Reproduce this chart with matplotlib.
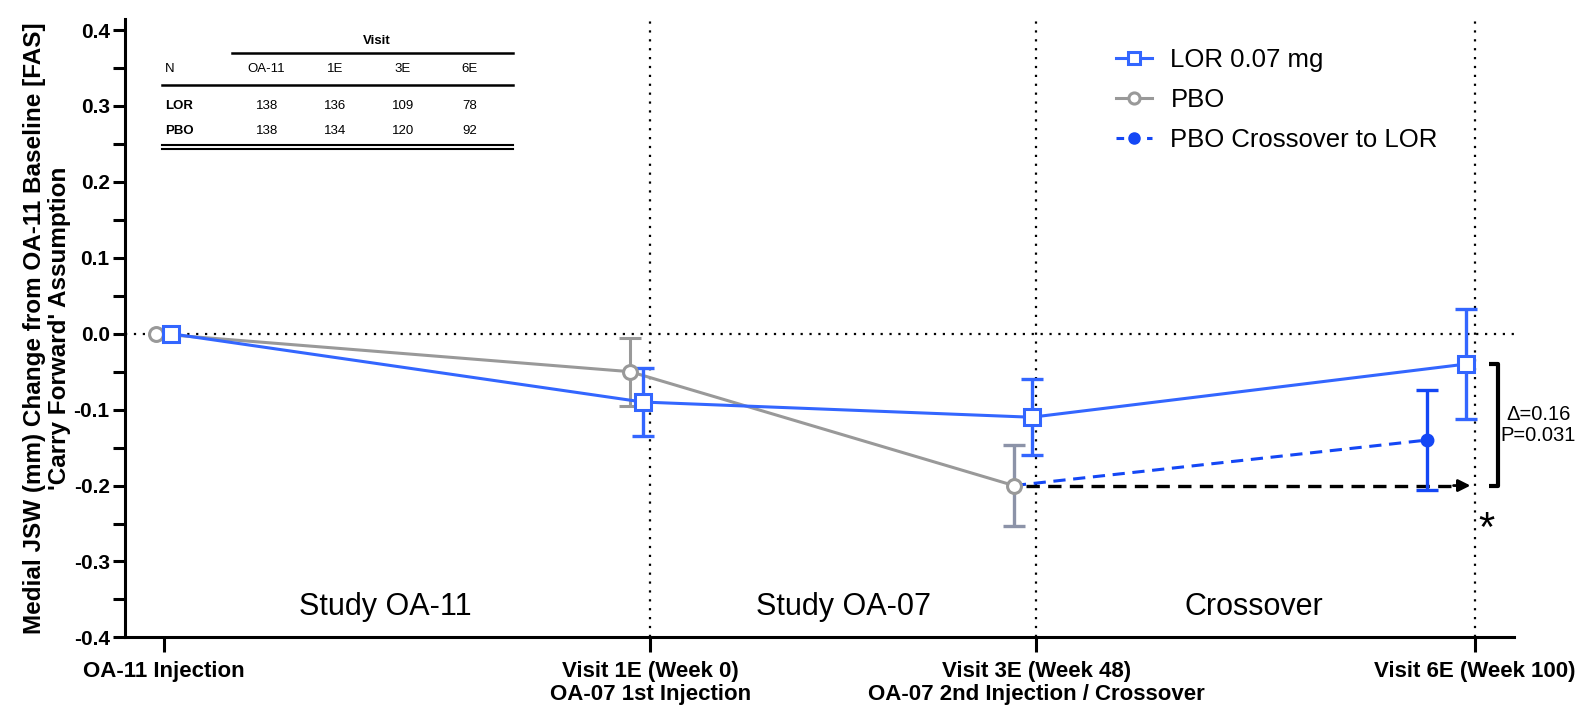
import matplotlib
matplotlib.use("Agg")
import matplotlib.pyplot as plt
from matplotlib.lines import Line2D
import numpy as np

# ---------------- data ----------------
visit_weeks = [-60.5, 0, 48, 102.5]
visit_labels = ["OA-11 Injection", "Visit 1E (Week 0)\nOA-07 1st Injection",
                "Visit 3E (Week 48)\nOA-07 2nd Injection / Crossover", "Visit 6E (Week 100)"]

lor_mean = [0.0, -0.09, -0.11, -0.04]
lor_err = [0.0, 0.045, 0.05, 0.072]
pbo_mean = [0.0, -0.05, -0.20]
pbo_err = [0.0, 0.045, 0.053]
cross_weeks = [48, 96.6]
cross_mean = [-0.20, -0.14]
cross_err = [0.0, 0.066]

table_cols = ["OA-11", "1E", "3E", "6E"]
table_lor = [138, 136, 109, 78]
table_pbo = [138, 134, 120, 92]

region_labels = ["Study OA-11", "Study OA-07", "Crossover"]
region_centers = [-33, 24, 75]

delta_text = "Δ=0.16\nP=0.031"

# style offsets (visual jitter of series around the visit)
lor_off = [0.9, -0.9, -0.6, -1.1]
pbo_off = [-1.0, -2.5, -2.8]

BLUE = "#3366FF"
BLUE2 = "#1447F5"
GRAY = "#999999"

fig = plt.figure(figsize=(15.94, 7.08), dpi=100)
ax = fig.add_axes([0.0784, 0.0997, 0.8716, 0.874])

narrow = ["Liberation Sans Narrow", "Liberation Sans", "DejaVu Sans"]
sans = ["Liberation Sans", "DejaVu Sans"]

# reference lines
ax.axhline(0, color="black", ls=(0, (1, 3)), lw=1.6, zorder=1)
for w in visit_weeks[1:]:
    ax.axvline(w, color="black", ls=(0, (1, 3)), lw=1.6, zorder=1)

lx = np.array(visit_weeks) + np.array(lor_off)
px = np.array(visit_weeks[:3]) + np.array(pbo_off)

# PBO
ax.plot(px, pbo_mean, color=GRAY, lw=2.2, zorder=3)
ax.errorbar(px[1:2], pbo_mean[1:2], yerr=pbo_err[1:2], fmt="none", ecolor=GRAY,
            elinewidth=2.2, capsize=8, capthick=2.2, zorder=3)
ax.errorbar(px[2:3], pbo_mean[2:3], yerr=pbo_err[2:3], fmt="none", ecolor="#8C93A8",
            elinewidth=2.4, capsize=8, capthick=2.4, zorder=3)

# crossover dashed line
ax.plot([px[2], cross_weeks[1]], cross_mean, color=BLUE2, lw=2.2, ls=(0, (4, 2.5)), zorder=4)
ax.errorbar(cross_weeks[1:], cross_mean[1:], yerr=cross_err[1:], fmt="o", color=BLUE2,
            ms=9, elinewidth=2.4, capsize=8, capthick=2.4, zorder=5)

# black dashed arrow (PBO carried forward)
ax.plot([px[2] + 1.5, visit_weeks[3] - 2.0], [pbo_mean[2], pbo_mean[2]], color="black",
        lw=2.4, ls=(0, (4, 2.5)), zorder=3)
ax.annotate("", xy=(visit_weeks[3] - 0.2, pbo_mean[2]), xytext=(visit_weeks[3] - 3.0, pbo_mean[2]),
            arrowprops=dict(arrowstyle="-|>", color="black", lw=2, mutation_scale=18), zorder=6)

# PBO markers on top
ax.plot(px, pbo_mean, ls="none", marker="o", ms=10, mfc="white", mec=GRAY, mew=2.2, zorder=6)

# LOR
ax.errorbar(lx[1:], lor_mean[1:], yerr=lor_err[1:], fmt="none", ecolor=BLUE,
            elinewidth=2.4, capsize=8, capthick=2.4, zorder=4)
ax.plot(lx, lor_mean, color=BLUE, lw=2.2, marker="s", ms=11, mfc="white", mec=BLUE, mew=2.2, zorder=7)

# bracket
bx = visit_weeks[3] + 1.7
ax.plot([bx, bx + 1.2, bx + 1.2, bx], [lor_mean[3], lor_mean[3], pbo_mean[2], pbo_mean[2]],
        color="black", lw=3, solid_capstyle="butt", zorder=6)
ax.text(bx + 6.2, (lor_mean[3] + pbo_mean[2]) / 2, delta_text, ha="center", va="center",
        fontsize=14.5, family=sans, linespacing=1.1)
ax.text(visit_weeks[3] + 1.4, -0.258, "*", ha="center", va="center", fontsize=30, family=sans)

# region labels
for lab, c in zip(region_labels, region_centers):
    ax.text(c, -0.36, lab, ha="center", va="center", fontsize=22, family=narrow)

# axes styling
ax.set_xlim(-65.3, 107.4)
ax.set_ylim(-0.4, 0.415)
ax.spines["top"].set_visible(False)
ax.spines["right"].set_visible(False)
ax.spines["left"].set_linewidth(2.2)
ax.spines["bottom"].set_linewidth(2.2)
yt = np.round(np.arange(-0.4, 0.401, 0.1), 1)
ax.set_yticks(yt)
ax.set_yticks(np.arange(-0.35, 0.4, 0.1), minor=True)
ax.set_yticklabels([f"{v:.1f}" if abs(v) > 1e-9 else "0.0" for v in yt])
ax.tick_params(axis="y", which="major", length=9, width=2.2, direction="out", labelsize=15, pad=2)
ax.tick_params(axis="y", which="minor", length=9, width=2.2, direction="out")
for t in ax.get_yticklabels():
    t.set_fontweight("bold")
    t.set_family(sans)
ax.set_xticks(visit_weeks)
ax.set_xticklabels(visit_labels, fontsize=16, fontweight="bold", family=narrow, linespacing=1.1)
ax.tick_params(axis="x", length=11, width=2.2, direction="out", pad=6)

ax.set_ylabel("Medial JSW (mm) Change from OA-11 Baseline [FAS]\n'Carry Forward' Assumption",
              fontsize=17.5, fontweight="bold", family=sans, labelpad=2, linespacing=1.1)

# N table (upper left)
T = ax.transAxes
tfs = 9.5
ax.text(0.181, 0.964, "Visit", transform=T, ha="center", va="center", fontsize=tfs, fontweight="bold", family=sans)
ax.plot([0.077, 0.279], [0.944, 0.944], transform=T, color="black", lw=1.8)
ax.text(0.029, 0.918, "N", transform=T, ha="left", va="center", fontsize=tfs, family=sans)
col_x = [0.102, 0.151, 0.200, 0.248]
for cx, c in zip(col_x, table_cols):
    ax.text(cx, 0.918, c, transform=T, ha="center", va="center", fontsize=tfs, family=sans)
ax.plot([0.027, 0.279], [0.893, 0.893], transform=T, color="black", lw=1.8)
ax.text(0.029, 0.859, "LOR", transform=T, ha="left", va="center", fontsize=tfs, fontweight="bold", family=sans)
ax.text(0.029, 0.819, "PBO", transform=T, ha="left", va="center", fontsize=tfs, fontweight="bold", family=sans)
for cx, a, b in zip(col_x, table_lor, table_pbo):
    ax.text(cx, 0.859, str(a), transform=T, ha="center", va="center", fontsize=tfs, family=sans)
    ax.text(cx, 0.819, str(b), transform=T, ha="center", va="center", fontsize=tfs, family=sans)
ax.plot([0.027, 0.279], [0.796, 0.796], transform=T, color="black", lw=1.5)
ax.plot([0.027, 0.279], [0.790, 0.790], transform=T, color="black", lw=1.5)

# legend
handles = [
    Line2D([], [], color=BLUE, lw=2.2, marker="s", ms=9, mfc="white", mec=BLUE, mew=2.2),
    Line2D([], [], color=GRAY, lw=2.2, marker="o", ms=8, mfc="white", mec=GRAY, mew=2.2),
    Line2D([], [], color=BLUE2, lw=2.2, ls=(0, (2.5, 2.5)), marker="o", ms=8),
]
leg = ax.legend(handles, ["LOR 0.07 mg", "PBO", "PBO Crossover to LOR"], loc="upper left",
                bbox_to_anchor=(0.697, 0.99), frameon=False, handlelength=1.4,
                labelspacing=0.62, handletextpad=0.7, prop={"family": sans, "size": 18.5})

fig.savefig("out.png", dpi=100)
